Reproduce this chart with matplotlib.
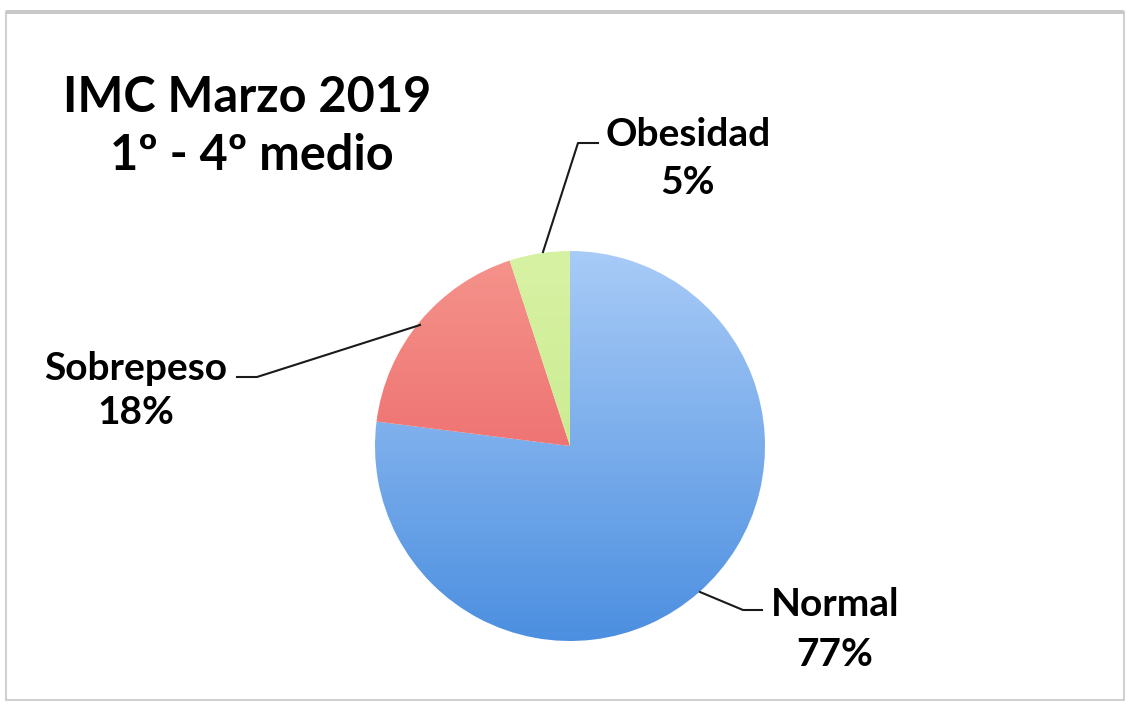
import numpy as np
import matplotlib.pyplot as plt
from matplotlib.colors import LinearSegmentedColormap
from matplotlib.patches import Rectangle

# data
labels = ["Normal", "Sobrepeso", "Obesidad"]
values = [77, 18, 5]
pct_text = ["77%", "18%", "5%"]
title_lines = ["IMC Marzo 2019", "1º - 4º medio"]

# gradient colours (top, bottom) for each slice
grads = [("#a8cbf7", "#4c8fe0"), ("#f5948c", "#e8545a"), ("#d8f2a4", "#bfe682")]

W, H = 1130, 707
fig = plt.figure(figsize=(W / 100, H / 100), dpi=100)
ax = fig.add_axes([0, 0, 1, 1])

# frame around the chart
fig.patches.append(Rectangle((6 / W, 7 / H), 1118 / W, 688 / H, transform=fig.transFigure,
                             fill=False, edgecolor="#d0d0d0", lw=1.5))
fig.patches.append(Rectangle((6 / W, (H - 14) / H), 1118 / W, 4 / H, transform=fig.transFigure,
                             facecolor="#c8c8c8", edgecolor="none"))

cx, cy, r = 570, H - 446, 195
wedges, _ = ax.pie(values, startangle=90, counterclock=False, center=(cx, cy), radius=r,
                   wedgeprops=dict(linewidth=0, edgecolor="none"), frame=False)
ax.set_xlim(0, W)
ax.set_ylim(0, H)
ax.set_aspect("equal")
ax.axis("off")

grad = np.linspace(0, 1, 256).reshape(-1, 1)
for w, (top, bot) in zip(wedges, grads):
    cmap = LinearSegmentedColormap.from_list("g", [bot, top])
    w.set_facecolor("none")
    im = ax.imshow(grad, cmap=cmap, extent=(cx - r, cx + r, cy - r, cy + r),
                   origin="lower", aspect="auto", zorder=1)
    im.set_clip_path(w)

font = "Lato"
lc = "#1a1a1a"

# title
ax.text(247, H - 98, title_lines[0], ha="center", va="center", fontsize=35,
        fontweight="bold", family=font, color="black")
ax.text(252, H - 156, title_lines[1], ha="center", va="center", fontsize=35,
        fontweight="bold", family=font, color="black")

# leader lines (pixel positions)
ax.plot([543, 578, 598], [H - 252, H - 143, H - 143], color=lc, lw=1.5, zorder=3)
ax.plot([420, 257, 237], [H - 325, H - 377, H - 377], color=lc, lw=1.5, zorder=3)
ax.plot([700, 743, 762], [H - 592, H - 610, H - 610], color=lc, lw=1.5, zorder=3)

lab_pos = {"Normal": (835, 605, 655), "Sobrepeso": (136, 368, 413), "Obesidad": (688, 135, 183)}
for lab, pt in zip(labels, pct_text):
    x, y1, y2 = lab_pos[lab]
    ax.text(x, H - y1, lab, ha="center", va="center", fontsize=28, fontweight="bold",
            family=font, color="black")
    ax.text(x, H - y2, pt, ha="center", va="center", fontsize=28, fontweight="bold",
            family=font, color="black")

fig.savefig("out.png", dpi=100)
